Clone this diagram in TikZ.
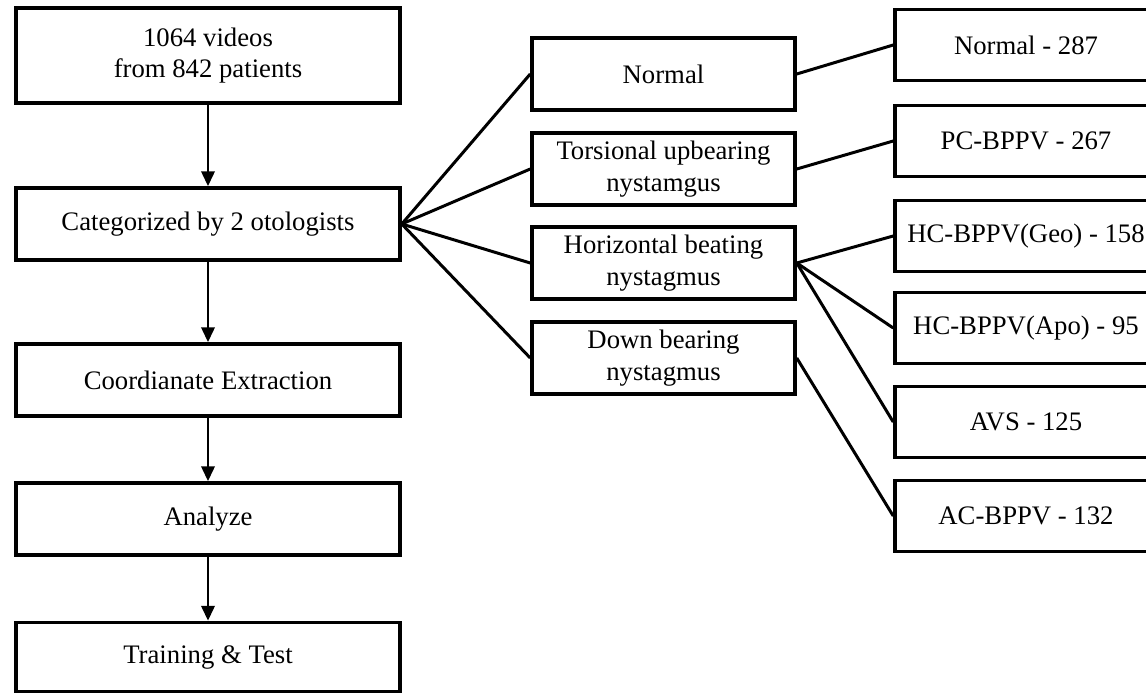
\documentclass[tikz,border=0pt]{standalone}
\usepackage{fontspec}
\setmainfont{Liberation Serif}
\usetikzlibrary{arrows.meta,positioning}

\begin{document}
\begin{tikzpicture}[
  font=\fontsize{15.2}{17.8}\selectfont,
  stage/.style={draw=black, line width=2pt, fill=white, align=center,
                minimum width=7.68cm, minimum height=1.44cm, inner sep=2pt},
  kind/.style={draw=black, line width=2pt, fill=white, align=center,
               minimum width=5.26cm, minimum height=1.44cm, inner sep=2pt},
  count/.style={draw=black, line width=2pt, fill=white, align=center,
                minimum width=5.24cm, minimum height=1.42cm, inner sep=2pt},
  flow/.style={draw=black, line width=1.7pt, -{Triangle[length=8.5pt,width=7.5pt]}},
  edge/.style={draw=black, line width=1.7pt}
]
\useasboundingbox (0,0) rectangle (22.92,-13.86);
% left column: pipeline
\node[stage, minimum height=1.9cm] (videos) at (4.16,-1.11) {1064 videos\\from 842 patients};
\node[stage] (cat) at (4.16,-4.48) {Categorized by 2 otologists};
\node[stage] (coord) at (4.16,-7.60) {Coordianate Extraction};
\node[stage] (analyze) at (4.16,-10.38) {Analyze};
\node[stage, minimum height=1.38cm] (train) at (4.16,-13.14) {Training \& Test};
\draw[flow] (videos) -- (cat);
\draw[flow] (cat) -- (coord);
\draw[flow] (coord) -- (analyze);
\draw[flow] (analyze) -- (train);
% middle column: nystagmus types
\node[kind] (normal) at (13.27,-1.48) {Normal};
\node[kind] (torsional) at (13.27,-3.38) {Torsional upbearing\\nystamgus};
\node[kind] (horizontal) at (13.27,-5.26) {Horizontal beating\\nystagmus};
\node[kind] (down) at (13.27,-7.16) {Down bearing\\nystagmus};
\draw[edge] (cat.east) -- (normal.west);
\draw[edge] (cat.east) -- (torsional.west);
\draw[edge] (cat.east) -- (horizontal.west);
\draw[edge] (cat.east) -- (down.west);
% right column: diagnoses
\node[count] (n287) at (20.52,-0.90) {Normal - 287};
\node[count] (pc) at (20.52,-2.82) {PC-BPPV - 267};
\node[count] (geo) at (20.52,-4.72) {HC-BPPV(Geo) - 158};
\node[count] (apo) at (20.52,-6.56) {HC-BPPV(Apo) - 95};
\node[count] (avs) at (20.52,-8.44) {AVS - 125};
\node[count] (ac) at (20.52,-10.32) {AC-BPPV - 132};
\draw[edge] (normal.east) -- (n287.west);
\draw[edge] (torsional.east) -- (pc.west);
\draw[edge] (horizontal.east) -- (geo.west);
\draw[edge] (horizontal.east) -- (apo.west);
\draw[edge] (horizontal.east) -- (avs.west);
\draw[edge] (down.east) -- (ac.west);
\end{tikzpicture}
\end{document}
